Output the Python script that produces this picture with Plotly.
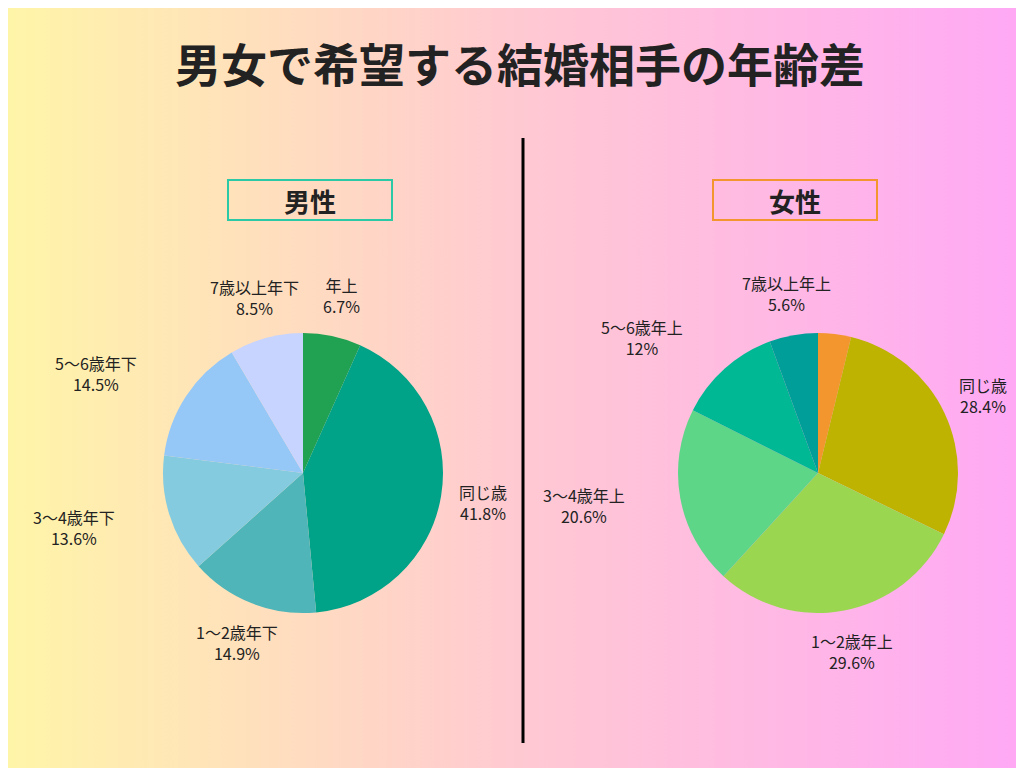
import numpy as np
import plotly.graph_objects as go

W, H = 1024, 768
FONT = "Noto Sans CJK JP"

male_labels = ["年上", "同じ歳", "1〜2歳年下", "3〜4歳年下", "5〜6歳年下", "7歳以上年下"]
male_values = [6.7, 41.8, 14.9, 13.6, 14.5, 8.5]
male_colors = ["#21a152", "#00a388", "#4fb5b8", "#84cbe0", "#96c8f7", "#c6d4ff"]

female_labels = ["年下", "同じ歳", "1〜2歳年上", "3〜4歳年上", "5〜6歳年上", "7歳以上年上"]
female_values = [3.8, 28.4, 29.6, 20.6, 12, 5.6]
female_colors = ["#f4962e", "#bdb300", "#9bd651", "#5dd688", "#00b894", "#009e98"]
female_show = [False, True, True, True, True, True]

fig = go.Figure()

# gradient background
fig.add_trace(go.Scatter(
    x=[0, 1, 1, 0, 0], y=[0, 0, 1, 1, 0], mode="lines", fill="toself",
    line=dict(width=0), hoverinfo="skip", showlegend=False,
    fillgradient=dict(type="horizontal",
                      colorscale=[[0, "#fff5a8"], [0.5, "#ffc9d2"], [1, "#ffa8f6"]])))


def add_pie(labels, values, colors, cx, cy, r, show=None):
    fig.add_trace(go.Pie(
        labels=labels, values=values, sort=False, direction="clockwise",
        marker=dict(colors=colors), textinfo="none", showlegend=False,
        domain=dict(x=[(cx - r) / W, (cx + r) / W], y=[1 - (cy + r) / H, 1 - (cy - r) / H])))
    total = sum(values)
    cum = 0
    for i, (lab, v) in enumerate(zip(labels, values)):
        mid = (cum + v / 2) / total
        cum += v
        if show is not None and not show[i]:
            continue
        ang = np.pi / 2 - 2 * np.pi * mid
        d = r * 1.3
        px_, py_ = cx + d * np.cos(ang), cy - d * np.sin(ang)
        if np.cos(ang) < -0.5:
            px_ -= 55  # wider offset for left-side labels
        fig.add_annotation(x=px_ / W, y=1 - py_ / H, xref="paper", yref="paper",
                           xanchor="center", yanchor="middle",
                           text=f"{lab}<br>{v:g}%", showarrow=False,
                           font=dict(size=16, color="#222", family=FONT), align="center")


add_pie(male_labels, male_values, male_colors, 295, 465, 140)
add_pie(female_labels, female_values, female_colors, 810, 465, 140, female_show)

# divider
fig.add_shape(type="line", xref="paper", yref="paper", x0=515 / W, x1=515 / W,
              y0=1 - 735 / H, y1=1 - 130 / H, line=dict(color="black", width=3))

# section boxes
for x0, x1, txt, col in [(220, 384, "男性", "#2bc9a5"), (705, 869, "女性", "#f4962e")]:
    fig.add_shape(type="rect", xref="paper", yref="paper", x0=x0 / W, x1=x1 / W,
                  y0=1 - 212 / H, y1=1 - 172 / H, line=dict(color=col, width=2),
                  fillcolor="rgba(0,0,0,0)")
    fig.add_annotation(x=(x0 + x1) / 2 / W, y=1 - 192 / H, xref="paper", yref="paper",
                       xanchor="center", yanchor="middle",
                       text=f"<b>{txt}</b>", showarrow=False,
                       font=dict(size=26, color="#222", family=FONT))

fig.update_layout(
    width=W, height=H, margin=dict(l=0, r=0, t=0, b=0),
    title=dict(text="<b>男女で希望する結婚相手の年齢差</b>", x=0.5, y=1 - 58 / H,
               xanchor="center", yanchor="middle",
               font=dict(size=46, color="#222", family=FONT)),
    xaxis=dict(range=[0, 1], visible=False, fixedrange=True),
    yaxis=dict(range=[0, 1], visible=False, fixedrange=True),
    plot_bgcolor="#ffc9d2", paper_bgcolor="#ffc9d2",
)

fig.write_html("out.html")
